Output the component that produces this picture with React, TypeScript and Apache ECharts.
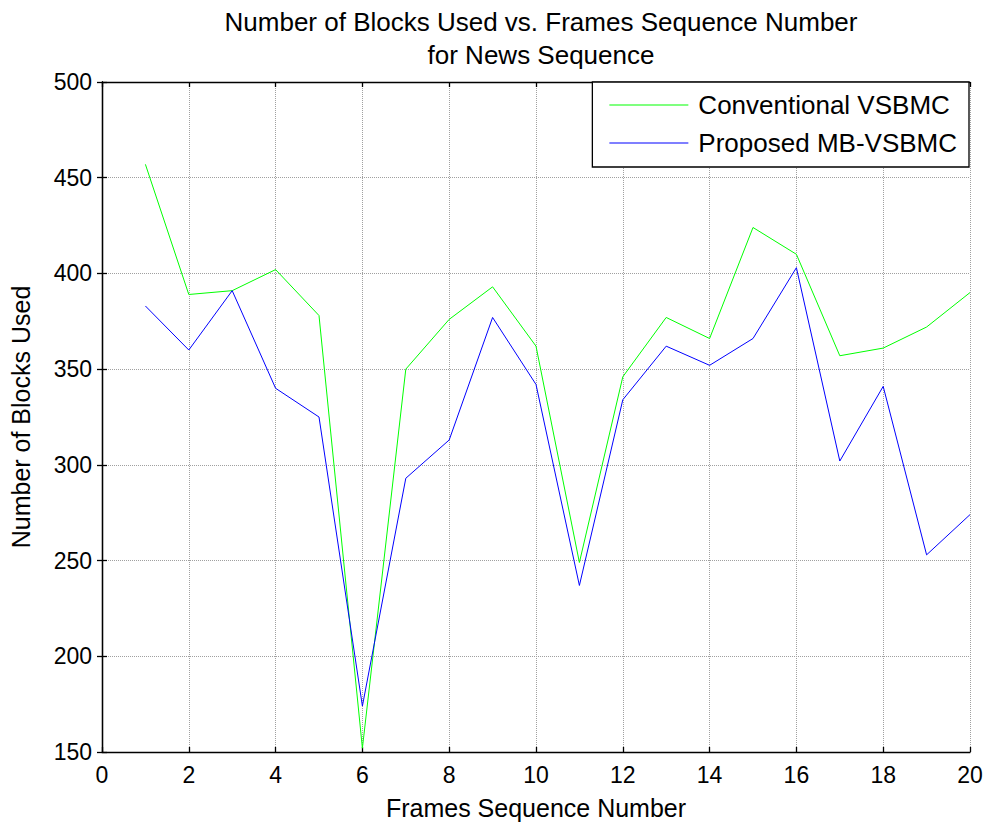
import React, { useEffect, useRef } from "react";
import * as echarts from "echarts";

const frames = [1, 2, 3, 4, 5, 6, 7, 8, 9, 10, 11, 12, 13, 14, 15, 16, 17, 18, 19, 20];
const conventional = [457, 389, 391, 402, 378, 152, 350, 376, 393, 362, 249, 346, 377, 366, 424, 410, 357, 361, 372, 390];
const proposed = [383, 360, 391, 340, 325, 174, 293, 313, 377, 342, 237, 334, 362, 352, 366, 403, 302, 341, 253, 274];
const seriesNames = ["Conventional VSBMC", "Proposed MB-VSBMC"];
const titleText = "Number of Blocks Used vs. Frames Sequence Number\nfor News Sequence";
const xTitle = "Frames Sequence Number";
const yTitle = "Number of Blocks Used";

const FONT = "Arial, 'Liberation Sans', Helvetica, sans-serif";

export default function App() {
  const ref = useRef<HTMLDivElement>(null);
  useEffect(() => {
    if (!ref.current) return;
    const chart = echarts.init(ref.current, undefined, { renderer: "svg" });
    const axisLine = { show: true, lineStyle: { color: "#000", width: 1.3 } };
    const tick = { show: true, inside: true, length: 5, lineStyle: { color: "#000", width: 1.3 } };
    const split = { show: true, lineStyle: { color: "#a0a0a0", type: "dotted" as const, width: 1 } };
    const lbl = { color: "#000", fontSize: 23, fontFamily: FONT };
    chart.setOption({
      animation: false,
      backgroundColor: "#fff",
      title: {
        text: titleText,
        left: 536,
        textAlign: "center",
        top: 0,
        textStyle: { color: "#000", fontSize: 26, fontWeight: "normal", fontFamily: FONT, lineHeight: 33 },
      },
      grid: { left: 102, top: 82, right: 19, bottom: 75, containLabel: false },
      legend: {
        right: 20,
        top: 82,
        orient: "vertical",
        data: seriesNames,
        icon: "rect",
        itemWidth: 79,
        itemHeight: 1,
        itemGap: 12,
        padding: [10, 12, 11, 17],
        borderColor: "#000",
        borderWidth: 1.3,
        borderRadius: 0,
        backgroundColor: "#fff",
        textStyle: { color: "#000", fontSize: 26, fontFamily: FONT, lineHeight: 26, padding: [0, 0, 0, 5] },
      },
      xAxis: [
        {
          type: "value",
          min: 0,
          max: 20,
          interval: 2,
          position: "bottom",
          name: xTitle,
          nameLocation: "middle",
          nameGap: 43,
          nameTextStyle: { color: "#000", fontSize: 25, fontFamily: FONT },
          axisLine,
          axisTick: tick,
          axisLabel: { ...lbl, margin: 11 },
          splitLine: split,
        },
        {
          type: "value",
          min: 0,
          max: 20,
          interval: 2,
          position: "top",
          axisLine,
          axisTick: tick,
          axisLabel: { show: false },
          splitLine: { show: false },
        },
      ],
      yAxis: [
        {
          type: "value",
          min: 150,
          max: 500,
          interval: 50,
          position: "left",
          name: yTitle,
          nameLocation: "middle",
          nameGap: 69,
          nameTextStyle: { color: "#000", fontSize: 25, fontFamily: FONT },
          axisLine,
          axisTick: tick,
          axisLabel: { ...lbl, margin: 10 },
          splitLine: split,
        },
        {
          type: "value",
          min: 150,
          max: 500,
          interval: 50,
          position: "right",
          axisLine,
          axisTick: tick,
          axisLabel: { show: false },
          splitLine: { show: false },
        },
      ],
      series: [
        {
          name: seriesNames[0],
          type: "line",
          data: frames.map((f, i) => [f, conventional[i]]),
          showSymbol: false,
          lineStyle: { color: "#00ff00", width: 1 },
          itemStyle: { color: "#00ff00" },
          z: 3,
        },
        {
          name: seriesNames[1],
          type: "line",
          data: frames.map((f, i) => [f, proposed[i]]),
          showSymbol: false,
          lineStyle: { color: "#0000ff", width: 1 },
          itemStyle: { color: "#0000ff" },
          z: 4,
        },
      ],
    });
    return () => chart.dispose();
  }, []);
  return (
    <div
      ref={ref}
      style={{ position: "fixed", left: 0, top: 0, width: 989, height: 827, background: "#fff" }}
    />
  );
}
